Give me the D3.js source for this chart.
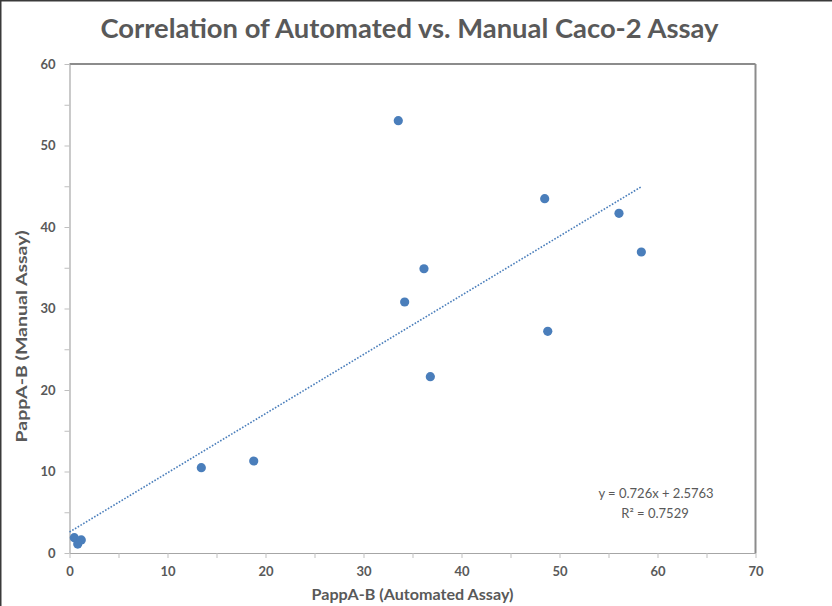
<!DOCTYPE html>
<html>
<head>
<meta charset="utf-8">
<script src="https://cdn.jsdelivr.net/npm/d3@7/dist/d3.min.js"></script>
<style>
  html, body { margin: 0; padding: 0; background: #fff; }
  svg { display: block; }
  text { font-family: Lato, "Open Sans", "DejaVu Sans", sans-serif; fill: #595959; }
</style>
</head>
<body>
<svg id="chart" width="832" height="606"></svg>
<script>
// Permeability (Papp A-B) measured by the automated and the manual Caco-2 assay
const automated = [33.55, 48.49, 56.07, 58.35, 36.17, 34.20, 48.80, 36.82, 13.45, 18.80, 0.49, 0.84, 1.20];
const manual    = [53.04, 43.47, 41.68, 36.93, 34.88, 30.80, 27.20, 21.63, 10.47, 11.29, 1.88, 1.10, 1.60];

// Linear trendline as reported on the chart
const slope = 0.726;
const intercept = 2.5763;
const rSquared = 0.7529;

const xTicks = [0, 10, 20, 30, 40, 50, 60, 70];
const yTicks = [0, 10, 20, 30, 40, 50, 60];

const title = "Correlation of Automated vs. Manual Caco-2 Assay";
const xTitle = "PappA-B (Automated Assay)";
const yTitle = "PappA-B  (Manual  Assay)";

const svg = d3.select("#chart");
const W = 832, H = 606;
const plot = { left: 69.5, right: 755.5, top: 64, bottom: 553 };

// outer chart frame
svg.append("rect")
  .attr("x", 0.75).attr("y", 0.75)
  .attr("width", W + 20).attr("height", H + 20)
  .attr("fill", "none").attr("stroke", "#3a3a3a").attr("stroke-width", 1.5);

const x = d3.scaleLinear().domain([0, 70]).range([plot.left, plot.right]);
const y = d3.scaleLinear().domain([0, 60]).range([plot.bottom, plot.top]);

// plot area top and right edges
svg.append("line")
  .attr("x1", plot.left).attr("x2", plot.right)
  .attr("y1", plot.top).attr("y2", plot.top)
  .attr("stroke", "#1a1a1a").attr("stroke-width", 1.2);
svg.append("line")
  .attr("x1", plot.right).attr("x2", plot.right)
  .attr("y1", plot.top).attr("y2", plot.bottom)
  .attr("stroke", "#8c8c8c").attr("stroke-width", 2);

// minor ticks every 5 units
const xMinor = d3.range(5, 70, 10);
const yMinor = d3.range(5, 60, 10);

const xAxis = svg.append("g")
  .attr("transform", `translate(0,${plot.bottom})`)
  .call(d3.axisBottom(x).tickValues(xTicks).tickSize(5).tickPadding(9).tickSizeOuter(0));
svg.append("g")
  .attr("transform", `translate(0,${plot.bottom})`)
  .call(d3.axisBottom(x).tickValues(xMinor).tickSize(5).tickFormat("").tickSizeOuter(0))
  .call(g => g.select(".domain").remove())
  .selectAll("line").attr("stroke", "#bfbfbf");

const yAxis = svg.append("g")
  .attr("transform", `translate(${plot.left},0)`)
  .call(d3.axisLeft(y).tickValues(yTicks).tickSize(5).tickPadding(9).tickSizeOuter(0));
svg.append("g")
  .attr("transform", `translate(${plot.left},0)`)
  .call(d3.axisLeft(y).tickValues(yMinor).tickSize(5).tickFormat("").tickSizeOuter(0))
  .call(g => g.select(".domain").remove())
  .selectAll("line").attr("stroke", "#bfbfbf");

[xAxis, yAxis].forEach(g => {
  g.select(".domain").attr("stroke", "#a6a6a6").attr("stroke-width", 1.2);
  g.selectAll(".tick line").attr("stroke", "#bfbfbf");
  g.selectAll(".tick text")
    .style("font-family", "Lato, 'Open Sans', sans-serif")
    .style("font-weight", "bold")
    .style("font-size", "13px")
    .attr("fill", "#595959");
});

// trendline from x = 0 to the largest automated value
const xMax = d3.max(automated);
svg.append("line")
  .attr("x1", x(0)).attr("y1", y(intercept))
  .attr("x2", x(xMax)).attr("y2", y(slope * xMax + intercept))
  .attr("stroke", "#4a7ebb").attr("stroke-width", 1.6)
  .attr("stroke-dasharray", "1.6,1.6");

// data points
svg.append("g").selectAll("circle")
  .data(automated.map((a, i) => [a, manual[i]]))
  .join("circle")
  .attr("cx", d => x(d[0]))
  .attr("cy", d => y(d[1]))
  .attr("r", 4.6)
  .attr("fill", "#4a7ebb");

// titles
svg.append("text")
  .attr("x", 409.5).attr("y", 38)
  .attr("text-anchor", "middle")
  .style("font-size", "26px").style("font-weight", "bold")
  .attr("textLength", 618).attr("lengthAdjust", "spacingAndGlyphs")
  .text(title);

svg.append("text")
  .attr("x", (plot.left + plot.right) / 2).attr("y", 600)
  .attr("text-anchor", "middle")
  .style("font-size", "15px").style("font-weight", "bold")
  .attr("textLength", 202).attr("lengthAdjust", "spacingAndGlyphs")
  .text(xTitle);

svg.append("text")
  .attr("transform", `translate(27,${(plot.top + plot.bottom) / 2 + 28}) rotate(-90)`)
  .attr("text-anchor", "middle")
  .style("font-size", "15px").style("font-weight", "bold")
  .attr("textLength", 212).attr("lengthAdjust", "spacingAndGlyphs")
  .text(yTitle);

// trendline equation
const fmt = d3.format(".4f");
svg.append("text")
  .attr("x", 656).attr("y", 498)
  .attr("text-anchor", "middle")
  .style("font-size", "13px")
  .text(`y = ${slope}x + ${intercept}`);
svg.append("text")
  .attr("x", 655).attr("y", 518)
  .attr("text-anchor", "middle")
  .style("font-size", "13px")
  .text(`R² = ${fmt(rSquared)}`);
</script>
</body>
</html>
